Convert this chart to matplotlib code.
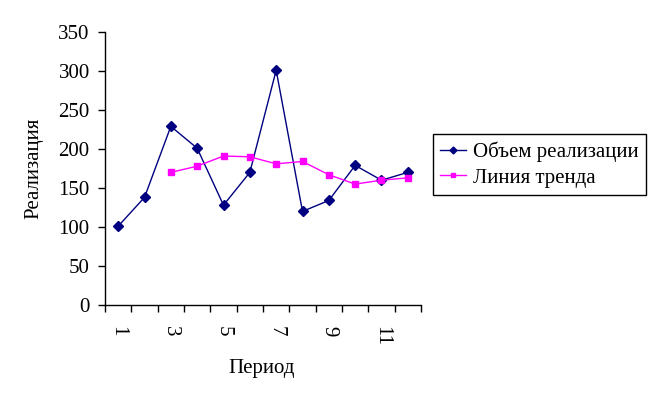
import matplotlib
matplotlib.use("Agg")
import matplotlib.pyplot as plt
import numpy as np

periods = list(range(1, 13))
volume = [101, 138, 229, 201, 128, 170, 301, 120, 134, 179, 160, 170]
trend_periods = list(range(3, 13))
trend = [170, 178, 191, 190, 181, 184, 167, 155, 160, 163]
y_ticks = [0, 50, 100, 150, 200, 250, 300, 350]
label_periods = [1, 3, 5, 7, 9, 11]
x_labels = ["1", "3", "5", "7", "9", "11"]

plt.rcParams['font.family'] = ['Liberation Serif', 'DejaVu Serif']
FS = 15

fig = plt.figure(figsize=(6.48, 3.99), dpi=100)
ax = fig.add_axes([105/648, 1-305/399, (421-105)/648, (305-32)/399])

ax.plot(periods, volume, color='#000080', lw=1, marker='D', ms=5,
        label='Объем реализации')
ax.plot(trend_periods, trend, color='#FF00FF', lw=1, marker='s', ms=4.5,
        label='Линия тренда')

ax.set_ylim(0, 350)
ax.set_xlim(0.5, 12.5)
ax.set_yticks(y_ticks)
ax.set_yticklabels([str(v) for v in y_ticks], fontsize=FS)
ax.set_xticks(np.arange(0.5, 13.0, 1.0))
ax.set_xticklabels([])
ax.tick_params(axis='both', direction='out', length=5, width=1, color='black')
ax.tick_params(axis='y', pad=6)
for i, lab in zip(label_periods, x_labels):
    ax.annotate(lab, xy=(i, 0), xycoords='data', xytext=(0, -21),
                textcoords='offset pixels', rotation=-90, ha='center',
                va='top', fontsize=FS)

ax.spines['top'].set_visible(False)
ax.spines['right'].set_visible(False)
for s in ['left', 'bottom']:
    ax.spines[s].set_color('black')
    ax.spines[s].set_linewidth(1)

fig.text(262/648, 1-368/399, 'Период', ha='center', va='center', fontsize=FS)
fig.text(34/648, 1-168/399, 'Реализация', ha='center', va='center',
         rotation=90, fontsize=FS)

leg = ax.legend(loc='upper left', bbox_to_anchor=(433/648, 1-134/399),
                bbox_transform=fig.transFigure, fontsize=FS,
                frameon=True, fancybox=False, edgecolor='black', framealpha=1,
                handlelength=1.25, handletextpad=0.3, borderpad=0.35,
                labelspacing=0.3, borderaxespad=0, markerscale=0.7)
leg.get_frame().set_linewidth(1)

fig.savefig('out.png', dpi=100, facecolor='white')
